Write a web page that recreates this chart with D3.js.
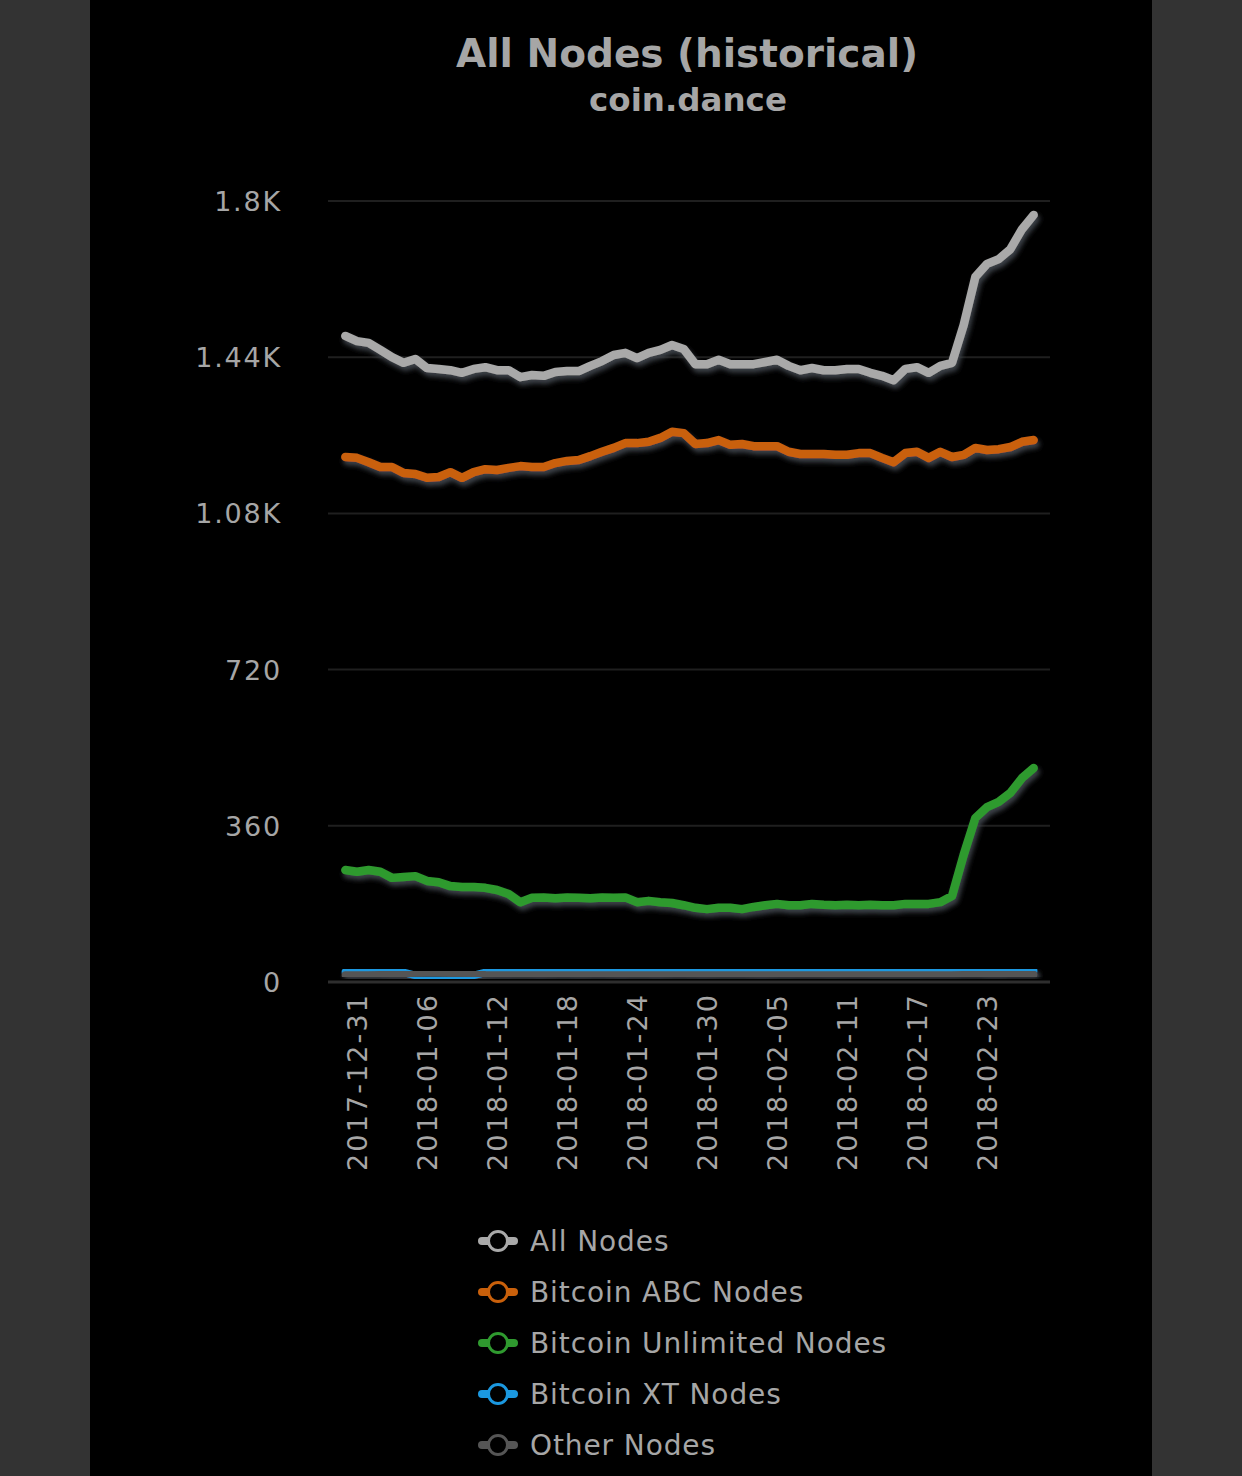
<!DOCTYPE html>
<html>
<head>
<meta charset="utf-8">
<script src="https://cdn.jsdelivr.net/npm/d3@7"></script>
<style>
  html, body { margin: 0; padding: 0; background: #333333; }
  svg { display: block; }
  text { font-family: "DejaVu Sans", Verdana, sans-serif; }
</style>
</head>
<body>
<svg id="chart" width="1242" height="1476"></svg>
<script>
// ---------- data ----------
const startDate = "2017-12-30";
const allNodes = [1489,1477,1473,1457,1440,1427,1436,1415,1413,1410,
                  1404,1413,1417,1410,1410,1394,1399,1397,1406,1408,
                  1408,1420,1431,1445,1450,1438,1450,1457,1468,1459,
                  1424,1424,1434,1424,1424,1424,1429,1434,1420,1410,
                  1415,1410,1410,1413,1413,1404,1397,1387,1413,1417,
                  1404,1420,1427,1514,1625,1655,1666,1689,1735,1768];
const abcNodes = [1210,1208,1198,1187,1187,1173,1171,1162,1164,1175,
                  1162,1175,1182,1180,1185,1189,1187,1187,1196,1201,
                  1203,1212,1222,1231,1242,1242,1245,1254,1268,1265,
                  1240,1242,1249,1238,1240,1235,1235,1235,1222,1217,
                  1217,1217,1215,1215,1219,1219,1208,1198,1219,1222,
                  1208,1222,1210,1215,1231,1226,1228,1233,1245,1249];
const unlimitedNodes = [258,254,258,254,240,242,244,233,230,221,
                        219,219,217,212,203,184,194,195,193,195,
                        194,193,195,194,195,184,187,184,182,177,
                        171,168,171,171,168,173,177,180,177,177,
                        180,178,177,178,177,178,177,177,180,180,
                        180,184,198,293,378,403,415,436,470,493];
const xtNodes = [23,23,24,23,22,22,15,13,13,14,
                 13,15,22,23,23,24,23,23,24,24,
                 23,24,24,23,23,24,23,23,24,24,
                 23,23,24,24,24,23,23,24,24,25,
                 25,24,24,25,25,24,24,25,24,24,
                 25,25,25,26,26,25,25,26,26,26];
const otherNodes = [16,16,16,17,17,18,21,22,22,21,
                    21,20,17,16,16,16,16,16,16,16,
                    16,16,16,16,16,16,16,16,16,16,
                    16,16,16,16,16,16,16,16,16,16,
                    16,16,16,16,16,16,16,16,16,16,
                    16,16,16,17,17,17,17,17,17,17];
const seriesNames = ["All Nodes","Bitcoin ABC Nodes","Bitcoin Unlimited Nodes","Bitcoin XT Nodes","Other Nodes"];
const seriesColors = ["#a9a9a9","#c9600b","#2f9a2f","#1b98e0","#555555"];
const yTickValues = [0,360,720,1080,1440,1800];
const yTickLabels = ["0","360","720","1.08K","1.44K","1.8K"];
const xTickLabels = ["2017-12-31","2018-01-06","2018-01-12","2018-01-18","2018-01-24",
                     "2018-01-30","2018-02-05","2018-02-11","2018-02-17","2018-02-23"];
const titleText = "All Nodes (historical)";
const subtitleText = "coin.dance";

// ---------- layout ----------
const svg = d3.select("#chart");
const W = 1242, H = 1476;
const plotL = 328, plotR = 1050, plotT = 201, plotB = 982;

svg.append("rect").attr("x", 90).attr("y", 0).attr("width", 1062).attr("height", H).attr("fill", "#000");

const defs = svg.append("defs");
const f = defs.append("filter").attr("id", "shadow")
  .attr("x", "-5%").attr("y", "-20%").attr("width", "110%").attr("height", "160%");
f.append("feDropShadow").attr("dx", 2).attr("dy", 4).attr("stdDeviation", 2.4)
  .attr("flood-color", "#3d4249").attr("flood-opacity", 1);

const parse = d3.utcParse("%Y-%m-%d");
const t0 = parse(startDate);
const dates = allNodes.map((_, i) => d3.utcDay.offset(t0, i));

const x = d3.scaleUtc().domain([parse(xTickLabels[0]), parse(xTickLabels[xTickLabels.length - 1])]).range([357, 987]);
x.domain([x.invert(plotL), x.invert(plotR)]).range([plotL, plotR]);
const y = d3.scaleLinear().domain([0, 1800]).range([plotB, plotT]);

// title
svg.append("text").attr("x", 687).attr("y", 67).attr("text-anchor", "middle")
  .attr("fill", "#a6a6a6").attr("font-weight", "bold").attr("font-size", 39).text(titleText);
svg.append("text").attr("x", 688).attr("y", 111).attr("text-anchor", "middle")
  .attr("fill", "#a6a6a6").attr("font-weight", "bold").attr("font-size", 32.5).text(subtitleText);

// grid
const grid = svg.append("g");
grid.selectAll("line").data(yTickValues).join("line")
  .attr("x1", plotL).attr("x2", plotR)
  .attr("y1", d => y(d)).attr("y2", d => y(d))
  .attr("stroke", d => d === 0 ? "#2e2e2e" : "#1f1f1f").attr("stroke-width", d => d === 0 ? 3 : 2);

// y axis
const yAxis = d3.axisLeft(y).tickValues(yTickValues).tickSize(0).tickPadding(0)
  .tickFormat((d, i) => yTickLabels[i]);
const gy = svg.append("g").attr("transform", `translate(282,0)`).call(yAxis);
gy.select(".domain").remove();
gy.selectAll("text").attr("fill", "#a6a6a6").attr("font-size", 27).attr("letter-spacing", 1.8)
  .attr("font-family", "DejaVu Sans, sans-serif").attr("dy", "0.35em");

// x axis
const xAxis = d3.axisBottom(x).tickValues(xTickLabels.map(parse)).tickSize(0).tickPadding(0)
  .tickFormat((d, i) => xTickLabels[i]);
const gx = svg.append("g").attr("transform", `translate(0,${plotB})`).call(xAxis);
gx.select(".domain").remove();
gx.selectAll("text").attr("fill", "#a6a6a6").attr("font-size", 27).attr("letter-spacing", 2.1)
  .attr("font-family", "DejaVu Sans, sans-serif")
  .attr("text-anchor", "end").attr("transform", "rotate(-90)")
  .attr("x", -11).attr("y", 0).attr("dy", "0.35em");

// lines
const allSeries = [allNodes, abcNodes, unlimitedNodes, xtNodes, otherNodes];
const line = d3.line().x((d, i) => x(dates[i])).y(d => y(d)).curve(d3.curveLinear);
const lg = svg.append("g");
allSeries.forEach((s, k) => {
  lg.append("path").datum(s).attr("d", line).attr("fill", "none")
    .attr("stroke", seriesColors[k]).attr("stroke-width", k >= 3 ? 7.5 : 8.5)
    .attr("stroke-linejoin", "round").attr("stroke-linecap", "round")
    .attr("filter", "url(#shadow)");
});

// legend
const leg = svg.append("g");
seriesNames.forEach((name, k) => {
  const cy = 1241 + k * 51;
  const g = leg.append("g");
  g.append("line").attr("x1", 482).attr("x2", 514).attr("y1", cy).attr("y2", cy)
    .attr("stroke", seriesColors[k]).attr("stroke-width", 8).attr("stroke-linecap", "round");
  g.append("circle").attr("cx", 498).attr("cy", cy).attr("r", 9.5)
    .attr("fill", "#000").attr("stroke", seriesColors[k]).attr("stroke-width", 3);
  g.append("text").attr("x", 530).attr("y", cy).attr("dy", "0.36em")
    .attr("fill", "#a6a6a6").attr("font-size", 28).attr("letter-spacing", 0.9).text(name);
});
</script>
</body>
</html>
